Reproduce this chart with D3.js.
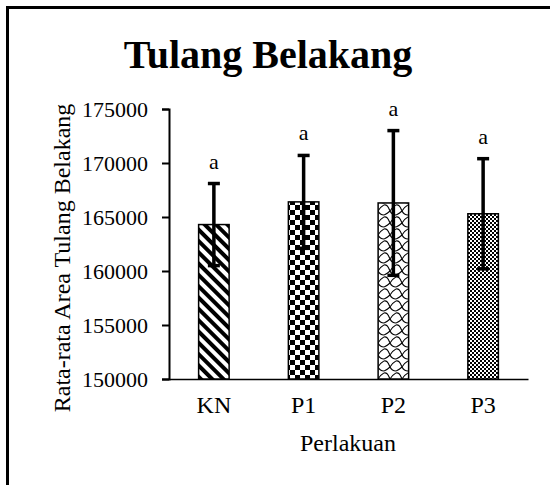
<!DOCTYPE html>
<html><head><meta charset="utf-8">
<script src="https://cdn.jsdelivr.net/npm/d3@7"></script>
<style>body{margin:0;background:#fff}svg{display:block}text{font-family:"Liberation Serif","Times New Roman",serif;fill:#000}</style>
</head><body><svg id="c" width="550" height="485"></svg>
<script>
const categories = ["KN","P1","P2","P3"];
const means = [164300, 166400, 166300, 165300];
const errors = [3800, 4300, 6700, 5100];
const letters = ["a","a","a","a"];
const yTicks = [150000,155000,160000,165000,170000,175000];
const patternIds = ["pKN","pP1","pP2","pP3"];

const svg = d3.select("#c");
const defs = svg.append("defs");
// KN diagonal stripes
const p0 = defs.append("pattern").attr("id","pKN").attr("patternUnits","userSpaceOnUse")
  .attr("width",8).attr("height",8).attr("patternTransform","rotate(-45)");
p0.append("rect").attr("width",8).attr("height",8).attr("fill","#fff");
p0.append("rect").attr("x",0).attr("width",4).attr("height",8).attr("fill","#000");
// P1 checker
const p1 = defs.append("pattern").attr("id","pP1").attr("patternUnits","userSpaceOnUse").attr("width",10).attr("height",10);
p1.append("rect").attr("width",10).attr("height",10).attr("fill","#fff");
p1.append("rect").attr("width",5).attr("height",5).attr("fill","#000");
p1.append("rect").attr("x",5).attr("y",5).attr("width",5).attr("height",5).attr("fill","#000");
// P2 wavy scales
const p2 = defs.append("pattern").attr("id","pP2").attr("patternUnits","userSpaceOnUse").attr("width",12).attr("height",12);
p2.append("rect").attr("width",12).attr("height",12).attr("fill","#fff");
p2.append("path").attr("d","M0,1 C4,0 5,5 6,7 C7,9 9,11 12,11 M6,7 C8,4 10,2 12,1 M0,11 C2,10 4,9 6,7")
  .attr("fill","none").attr("stroke","#000").attr("stroke-width",1.1);
// P3 small checker
const p3 = defs.append("pattern").attr("id","pP3").attr("patternUnits","userSpaceOnUse").attr("width",4).attr("height",4);
p3.append("rect").attr("width",4).attr("height",4).attr("fill","#fff");
p3.append("rect").attr("width",2).attr("height",2).attr("fill","#000");
p3.append("rect").attr("x",2).attr("y",2).attr("width",2).attr("height",2).attr("fill","#000");

// frame
svg.append("rect").attr("x",7.5).attr("y",7.5).attr("width",600).attr("height",600)
  .attr("fill","none").attr("stroke","#000").attr("stroke-width",3);

const x0 = 169, x1 = 528, yTop = 109, yBot = 379;
const x = d3.scaleBand().domain(categories).range([x0,x1]).paddingInner(0.66).paddingOuter(0.33);
const y = d3.scaleLinear().domain([150000,175000]).range([yBot,yTop]);

svg.append("text").attr("x",268).attr("y",68).attr("text-anchor","middle")
  .attr("font-size",40).attr("font-weight","bold").text("Tulang Belakang");

// y axis
const ya = svg.append("g").attr("transform",`translate(${x0},0)`)
  .call(d3.axisLeft(y).tickValues(yTicks).tickFormat(d3.format("d")).tickSizeOuter(0).tickSize(7).tickPadding(14));
ya.selectAll("path,line").attr("stroke","#000").attr("stroke-width",2);
ya.selectAll("text").attr("font-size",22);
// x axis
const xa = svg.append("g").attr("transform",`translate(0,${yBot})`)
  .call(d3.axisBottom(x).tickSize(0).tickSizeOuter(0).tickPadding(17));
xa.select("path").attr("stroke","#000").attr("stroke-width",1.5);
xa.selectAll("text").attr("font-size",24);

// bars
svg.selectAll(".bar").data(categories).enter().append("rect")
  .attr("x",d=>x(d)).attr("width",x.bandwidth())
  .attr("y",(d,i)=>y(means[i])).attr("height",(d,i)=>yBot-y(means[i]))
  .attr("fill",(d,i)=>`url(#${patternIds[i]})`).attr("stroke","#000").attr("stroke-width",1.5);

// error bars
const cx = d => x(d)+x.bandwidth()/2;
svg.selectAll(".err").data(categories).enter().append("line")
  .attr("x1",cx).attr("x2",cx)
  .attr("y1",(d,i)=>y(means[i]-errors[i])).attr("y2",(d,i)=>y(means[i]+errors[i]))
  .attr("stroke","#000").attr("stroke-width",3.5);
svg.selectAll(".capT").data(categories).enter().append("line")
  .attr("x1",d=>cx(d)-6).attr("x2",d=>cx(d)+6)
  .attr("y1",(d,i)=>y(means[i]+errors[i])).attr("y2",(d,i)=>y(means[i]+errors[i]))
  .attr("stroke","#000").attr("stroke-width",3.5);
svg.selectAll(".capB").data(categories).enter().append("line")
  .attr("x1",d=>cx(d)-6).attr("x2",d=>cx(d)+6)
  .attr("y1",(d,i)=>y(means[i]-errors[i])).attr("y2",(d,i)=>y(means[i]-errors[i]))
  .attr("stroke","#000").attr("stroke-width",3.5);

svg.selectAll(".lbl").data(categories).enter().append("text")
  .attr("x",cx).attr("y",(d,i)=>y(means[i]+errors[i])-15).attr("text-anchor","middle")
  .attr("font-size",22).text((d,i)=>letters[i]);

svg.append("text").attr("transform","translate(70,258) rotate(-90)").attr("text-anchor","middle")
  .attr("font-size",24).text("Rata-rata Area Tulang Belakang");
svg.append("text").attr("x",348).attr("y",451).attr("text-anchor","middle")
  .attr("font-size",24).text("Perlakuan");
</script></body></html>
